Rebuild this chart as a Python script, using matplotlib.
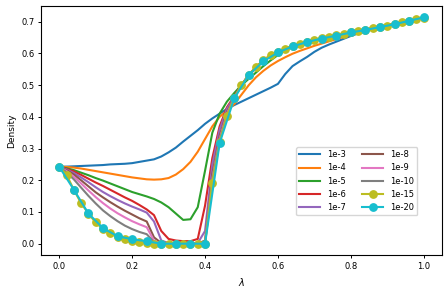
import matplotlib
matplotlib.use("Agg")
import matplotlib.pyplot as plt
import numpy as np

x_fine = [round(0.02 * i, 2) for i in range(51)]
x_coarse = [round(0.04 * i, 2) for i in range(26)]

labels = ["1e-3", "1e-4", "1e-5", "1e-6", "1e-7", "1e-8", "1e-9", "1e-10", "1e-15", "1e-20"]

tail = [0.605, 0.615, 0.623, 0.630, 0.637, 0.642, 0.648, 0.652, 0.657, 0.661,
        0.666, 0.670, 0.675, 0.679, 0.684, 0.688, 0.693, 0.698, 0.703, 0.708, 0.713]  # x = 0.60 .. 1.00

d_1e3 = [0.2426, 0.243, 0.244, 0.245, 0.246, 0.247, 0.248, 0.250, 0.251, 0.252,
         0.254, 0.258, 0.262, 0.266, 0.275, 0.288, 0.303, 0.322, 0.340, 0.358,
         0.378, 0.395, 0.410, 0.425, 0.437, 0.448, 0.459, 0.470, 0.481, 0.492,
         0.504, 0.535, 0.560, 0.575, 0.589, 0.605, 0.618, 0.628, 0.637, 0.646,
         0.655, 0.663, 0.671, 0.678, 0.684, 0.688, 0.693, 0.698, 0.703, 0.708, 0.713]
d_1e4 = [0.2426, 0.242, 0.240, 0.237, 0.233, 0.229, 0.225, 0.221, 0.217, 0.213,
         0.209, 0.206, 0.203, 0.202, 0.203, 0.207, 0.218, 0.235, 0.258, 0.290,
         0.330, 0.370, 0.400, 0.420, 0.440, 0.470, 0.500, 0.525, 0.545, 0.562,
         0.576, 0.588, 0.599, 0.608, 0.616, 0.624, 0.631, 0.638, 0.645, 0.652,
         0.660, 0.668, 0.675, 0.679, 0.684, 0.688, 0.693, 0.698, 0.703, 0.708, 0.713]
d_1e5 = [0.2426, 0.238, 0.232, 0.224, 0.216, 0.207, 0.199, 0.190, 0.181, 0.172,
         0.163, 0.156, 0.149, 0.141, 0.130, 0.115, 0.095, 0.075, 0.077, 0.115,
         0.230, 0.350, 0.410, 0.448, 0.475, 0.500, 0.520, 0.540, 0.560, 0.578,
         0.595, 0.610, 0.620, 0.628, 0.636, 0.642, 0.648, 0.652, 0.657, 0.661,
         0.666, 0.670, 0.675, 0.679, 0.684, 0.688, 0.693, 0.698, 0.703, 0.708, 0.713]
d_1e6 = [0.2426, 0.236, 0.228, 0.217, 0.205, 0.193, 0.182, 0.170, 0.158, 0.146,
         0.135, 0.122, 0.108, 0.090, 0.040, 0.015, 0.010, 0.008, 0.008, 0.015,
         0.120, 0.270, 0.370, 0.430, 0.465, 0.500, 0.530, 0.555, 0.576, 0.592] + tail
d_1e7 = [0.2426, 0.234, 0.223, 0.209, 0.194, 0.178, 0.163, 0.150, 0.138, 0.127,
         0.117, 0.108, 0.098, 0.070, 0.010, 0.002, 0.002, 0.002, 0.002, 0.002,
         0.040, 0.250, 0.360, 0.425, 0.462, 0.500, 0.532, 0.556, 0.577, 0.593] + tail
d_1e8 = [0.2426, 0.232, 0.218, 0.200, 0.181, 0.162, 0.146, 0.131, 0.117, 0.104,
         0.092, 0.080, 0.070, 0.020, 0.002, 0.000, 0.000, 0.000, 0.000, 0.000,
         0.010, 0.220, 0.340, 0.415, 0.460, 0.500, 0.532, 0.557, 0.578, 0.594] + tail
d_1e9 = [0.2426, 0.229, 0.211, 0.190, 0.168, 0.147, 0.128, 0.111, 0.096, 0.083,
         0.071, 0.061, 0.052, 0.010, 0.000, 0.000, 0.000, 0.000, 0.000, 0.000,
         0.005, 0.205, 0.330, 0.410, 0.460, 0.500, 0.533, 0.557, 0.578, 0.594] + tail
d_1e10 = [0.2426, 0.225, 0.203, 0.177, 0.151, 0.127, 0.105, 0.087, 0.071, 0.057,
          0.046, 0.037, 0.030, 0.005, 0.000, 0.000, 0.000, 0.000, 0.000, 0.000,
          0.002, 0.200, 0.325, 0.405, 0.460, 0.500, 0.533, 0.557, 0.578, 0.594] + tail
d_1e15 = [0.2426, 0.218, 0.170, 0.128, 0.095, 0.067, 0.047, 0.033, 0.022, 0.015,
          0.010, 0.006, 0.003, 0.000, 0.000, 0.000, 0.000, 0.000, 0.000, 0.000,
          0.000, 0.192, 0.320, 0.403, 0.460, 0.500, 0.533, 0.557, 0.578, 0.594] + tail
d_1e20 = [0.2426, 0.1705, 0.0953, 0.049, 0.0235, 0.014, 0.0076, 0.0, 0.0, 0.0,
          0.0, 0.317, 0.458, 0.532, 0.575, 0.603, 0.622, 0.636, 0.647, 0.656,
          0.666, 0.674, 0.683, 0.692, 0.703, 0.7135]

colors = ["#1f77b4", "#ff7f0e", "#2ca02c", "#d62728", "#9467bd", "#8c564b",
          "#e377c2", "#7f7f7f", "#bcbd22", "#17becf"]

fig = plt.figure(figsize=(4.48, 2.91), dpi=100)
ax = fig.add_axes([0.0915, 0.1237, 0.8951, 0.8553])

series = [d_1e3, d_1e4, d_1e5, d_1e6, d_1e7, d_1e8, d_1e9, d_1e10]
for lab, ys, c in zip(labels[:8], series, colors[:8]):
    ax.plot(x_fine, ys, color=c, lw=1.5, label=lab)
ax.plot(x_fine, d_1e15, color=colors[8], lw=1.5, marker="o", ms=5.3, label=labels[8])
ax.plot(x_coarse, d_1e20, color=colors[9], lw=1.5, marker="o", ms=5.3, label=labels[9])

ax.set_xlabel(r"$\lambda$", fontsize=7)
ax.set_ylabel("Density", fontsize=6.5)
ax.tick_params(labelsize=6, length=2.2, width=0.7, pad=2.5)
for s in ax.spines.values():
    s.set_linewidth(0.8)
ax.set_xticks([0.0, 0.2, 0.4, 0.6, 0.8, 1.0])
ax.set_yticks([0.0, 0.1, 0.2, 0.3, 0.4, 0.5, 0.6, 0.7])

ax.legend(ncol=2, fontsize=6, loc="upper left", bbox_to_anchor=(0.636, 0.434),
          borderaxespad=0, handlelength=2.5)

fig.savefig("out.png", dpi=100)
